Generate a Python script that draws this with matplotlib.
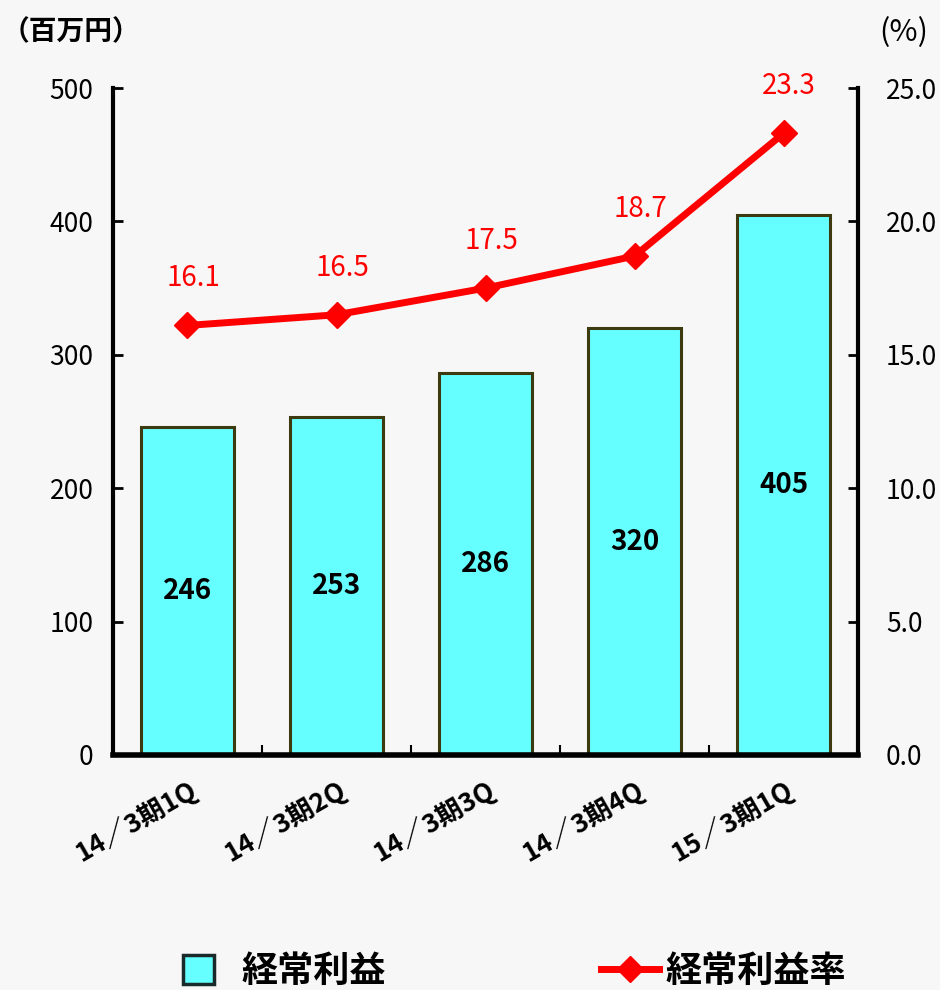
"""Ordinary profit by quarter (bars) with ordinary profit margin (line, right axis)."""
import matplotlib
matplotlib.use("Agg")
import matplotlib.pyplot as plt
from matplotlib.lines import Line2D
from matplotlib.patches import Patch

plt.rcParams["font.family"] = ["Noto Sans CJK JP", "DejaVu Sans"]

quarters = ["14／3期1Q", "14／3期2Q", "14／3期3Q", "14／3期4Q", "15／3期1Q"]
profit = [246, 253, 286, 320, 405]          # 百万円
margin = [16.1, 16.5, 17.5, 18.7, 23.3]     # %

BG = "#f7f7f7"
BAR = "#66ffff"
EDGE = "#3d3a10"
RED = "#ff0000"

fig = plt.figure(figsize=(9.4, 9.9), dpi=100, facecolor=BG)
ax = fig.add_axes([0.1202, 0.2374, 0.7926, 0.6737])
ax.set_facecolor(BG)
ax2 = ax.twinx()

x = range(len(quarters))
bars = ax.bar(x, profit, width=0.63, color=BAR, edgecolor=EDGE, linewidth=2.2, zorder=2)
for b, v in zip(bars, profit):
    ax.text(b.get_x() + b.get_width() / 2, v / 2, f"{v}", ha="center", va="center",
            fontsize=20, fontweight="bold", color="black")

ax2.plot(x, margin, color=RED, lw=5, marker="D", ms=13, zorder=3)
for i, v in enumerate(margin):
    ax2.annotate(f"{v:.1f}", (i, v), textcoords="offset points", xytext=(4, 34),
                 ha="center", va="center", fontsize=20, color=RED)

ax.set_xlim(-0.5, 4.5)
ax.set_ylim(0, 500)
ax2.set_ylim(0, 25)
ax.set_yticks(range(0, 501, 100))
ax2.set_yticks([0, 5, 10, 15, 20, 25])
ax2.set_yticklabels([f"{t:.1f}" for t in ax2.get_yticks()])

# category labels sit under the bars; the small ticks mark the boundaries
ax.set_xticks(list(x))
ax.set_xticklabels(quarters, rotation=30, ha="right", rotation_mode="anchor",
                   fontsize=19, fontweight="bold")
ax.set_xticks([i + 0.5 for i in range(len(quarters) - 1)], minor=True)
ax.tick_params(axis="x", which="major", length=0, pad=14)
ax.tick_params(axis="x", which="minor", direction="in", length=7, width=1.5)
ax.tick_params(axis="y", direction="in", length=7, width=2, labelsize=19, pad=14)
ax2.tick_params(axis="y", direction="in", length=7, width=2, labelsize=19, pad=20)

for a in (ax, ax2):
    a.spines["top"].set_visible(False)
ax.spines["left"].set_linewidth(3)
ax.spines["bottom"].set_linewidth(4)
ax2.spines["right"].set_linewidth(3)
ax2.spines["left"].set_visible(False)
ax2.spines["bottom"].set_visible(False)

fig.text(0.002, 0.967, "（百万円）", fontsize=20, fontweight="bold", ha="left", va="center")
fig.text(0.961, 0.967, "(%)", fontsize=22, ha="center", va="center")

# two separate legends so each handle gets its own length
leg_kw = dict(loc="center left", frameon=False, borderpad=0,
              prop={"size": 26, "weight": "bold"})
leg1 = fig.legend([Patch(facecolor=BAR, edgecolor="#1a2a2a", linewidth=2.5)], ["経常利益"],
                  bbox_to_anchor=(0.176, 0.019), handlelength=0.85, handleheight=0.85,
                  handletextpad=0.75, **leg_kw)
leg2 = fig.legend([Line2D([], [], color=RED, lw=5, marker="D", ms=13)], ["経常利益率"],
                  bbox_to_anchor=(0.62, 0.019), handlelength=1.6,
                  handletextpad=0.2, **leg_kw)

fig.savefig("out.png", dpi=100, facecolor=BG)
